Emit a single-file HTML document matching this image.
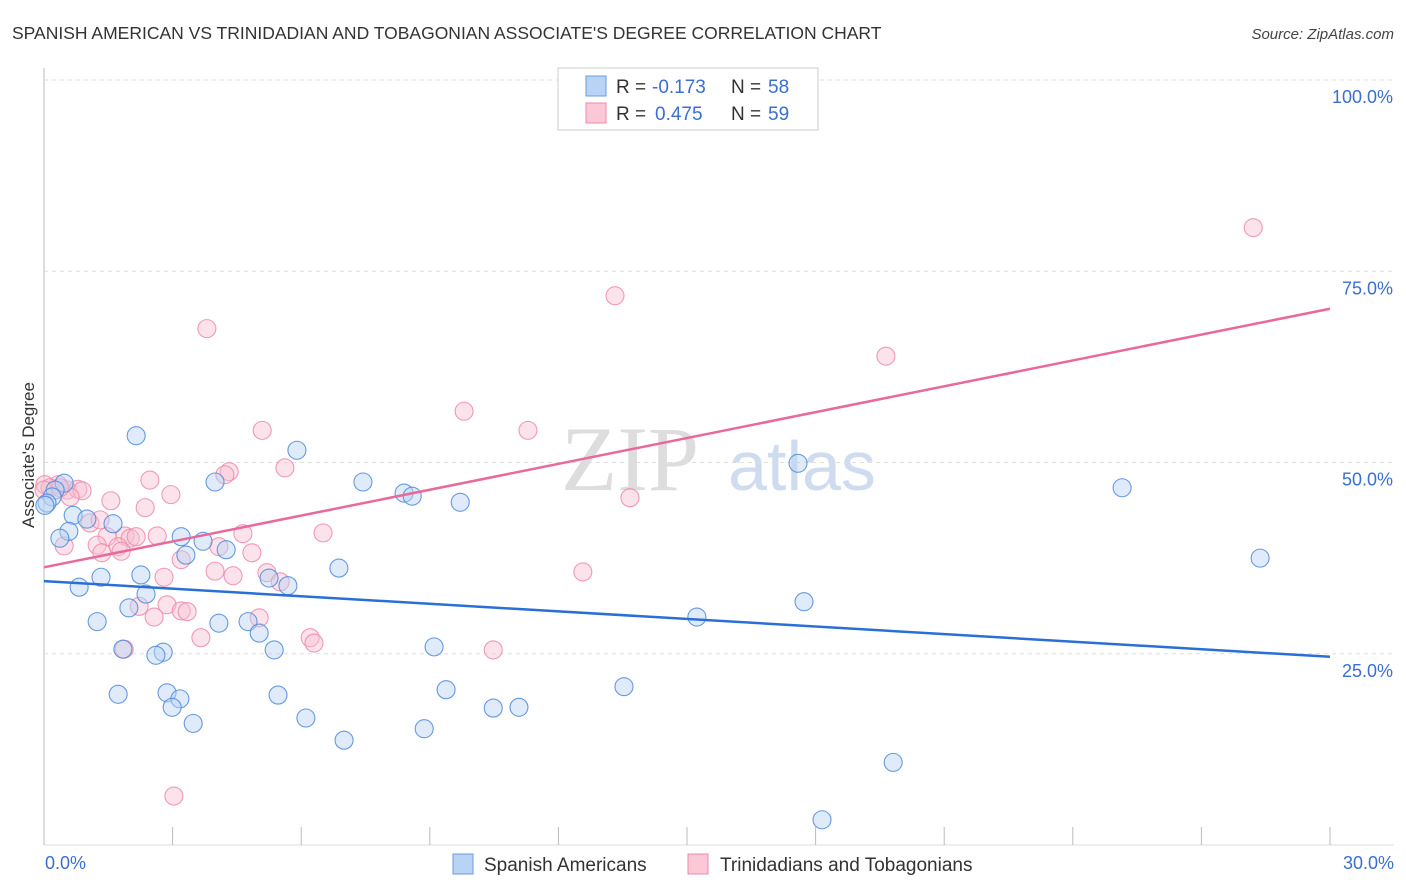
<!DOCTYPE html>
<html><head><meta charset="utf-8"><style>
body{margin:0;background:#fff;font-family:"Liberation Sans",sans-serif;}
svg{display:block}
</style></head><body>
<svg width="1406" height="892" xmlns="http://www.w3.org/2000/svg" id="c">
<text x="12" y="39" font-size="17.5" fill="#333">SPANISH AMERICAN VS TRINIDADIAN AND TOBAGONIAN ASSOCIATE'S DEGREE CORRELATION CHART</text>
<text x="1394" y="39" font-size="15" fill="#444" text-anchor="end" font-style="italic">Source: ZipAtlas.com</text>
<g font-size="92" text-anchor="middle">
<text x="630" y="490" fill="#ddd" font-family="Liberation Serif,serif">ZIP</text>
<text x="802" y="490" fill="#cfdcf0" font-size="70">atlas</text></g>
<text transform="translate(34,455) rotate(-90)" font-size="17" fill="#333" text-anchor="middle">Associate's Degree</text>
<g id="grid"></g><g id="pts"></g><g id="lines"></g>
<g font-size="19" fill="#333">
<rect x="558" y="68" width="260" height="62" fill="#fff" stroke="#ccc"/>
<rect x="586" y="76" width="20" height="20" fill="#b9d3f5" stroke="#6a9ce0"/>
<rect x="586" y="103" width="20" height="20" fill="#fbc8d8" stroke="#ec8aa8"/>
<text x="616" y="93">R =</text><text x="652" y="93" fill="#3a6fd0">-0.173</text>
<text x="731" y="93">N =</text><text x="768" y="93" fill="#3a6fd0">58</text>
<text x="616" y="120">R =</text><text x="655" y="120" fill="#3a6fd0">0.475</text>
<text x="731" y="120">N =</text><text x="768" y="120" fill="#3a6fd0">59</text>
</g>
<g font-size="19" fill="#333">
<rect x="453" y="854" width="20" height="20" fill="#b9d3f5" stroke="#6a9ce0"/>
<text x="484" y="871">Spanish Americans</text>
<rect x="688" y="854" width="20" height="20" fill="#fbc8d8" stroke="#ec8aa8"/>
<text x="720" y="871">Trinidadians and Tobagonians</text>
</g>
</svg>
<script>
const xTicks=[0,3,6,9,12,15,18,21,24,27,30];
const yTicks=[25,50,75,100];
const yTickLabels=["25.0%","50.0%","75.0%","100.0%"];
const xEndLabels=["0.0%","30.0%"];
const blueX=[2.15,5.90,3.99,7.44,8.40,8.59,9.71,17.59,25.15,28.37,0.47,0.26,0.19,0.07,0.68,1.00,1.61,0.58,0.37,3.20,3.71,4.25,3.31,1.33,2.26,6.88,5.25,5.69,0.82,2.38,1.98,1.24,4.08,4.76,5.02,15.23,17.73,9.10,5.37,2.78,2.61,1.84,1.73,2.87,3.17,2.99,5.46,9.38,13.53,3.48,6.11,10.48,11.08,7.00,8.87,19.81,18.15,0.02];
const blueY=[53.5,51.6,47.45,47.45,46.0,45.6,44.8,49.9,46.7,37.5,47.3,46.4,45.5,44.7,43.1,42.6,42.0,41.0,40.1,40.3,39.7,38.6,37.9,35.0,35.3,36.2,34.9,33.9,33.7,32.8,31.0,29.2,29.0,29.2,27.7,29.8,31.8,25.9,25.5,25.2,24.8,25.6,19.7,19.9,19.1,18.0,19.6,20.3,20.7,15.9,16.6,17.9,18.0,13.7,15.2,10.8,3.3,44.4];
const pinkX=[28.21,13.32,3.80,19.64,9.80,5.09,11.29,4.32,4.22,5.62,2.47,2.96,1.56,2.36,0.33,0.54,0.79,0.89,0.61,0.02,0.14,1.07,1.47,1.89,2.01,2.64,2.15,4.64,6.51,1.24,1.73,1.35,1.80,4.08,4.85,3.20,13.67,12.57,3.99,4.41,5.20,2.80,5.51,2.22,2.87,3.20,3.34,2.57,5.02,6.21,6.30,3.66,1.87,10.48,3.03,0.47,1.31,0.0,0.37];
const pinkY=[80.7,71.8,67.5,63.9,56.7,54.2,54.2,48.8,48.4,49.3,47.7,45.8,45.0,44.1,47.1,46.4,46.5,46.3,45.5,47.1,46.7,42.1,40.3,40.4,40.1,40.4,40.3,40.7,40.8,39.2,39.0,38.2,38.4,39.0,38.2,37.3,45.4,35.7,35.8,35.2,35.6,35.0,34.4,31.2,31.4,30.6,30.5,29.8,29.7,27.1,26.4,27.1,25.6,25.5,6.4,39.1,42.5,46.4,46.7];
const blueTrend=[34.5,24.6];
const pinkTrend=[36.3,70.1];
const NS="http://www.w3.org/2000/svg";
const X=v=>44+v/30*1286, Y=v=>845-v*7.65;
function mk(t,a,p){const e=document.createElementNS(NS,t);for(const k in a)e.setAttribute(k,a[k]);p.appendChild(e);return e;}
const g=document.getElementById('grid');
let ax=mk('line',{x1:44,y1:68,x2:44,y2:845,stroke:'#bbb'},g);


let bx=mk('line',{x1:44,y1:845,x2:1394,y2:845,stroke:'#ddd'},g);


yTicks.forEach((t,i)=>{
 const l=mk('line',{x1:44,x2:1394,y1:Y(t),y2:Y(t),stroke:'#ddd','stroke-dasharray':'4,4'},g);
 
 
 const tx=mk('text',{x:1393,y:Y(t)+23,'font-size':18,fill:'#3a6fd0','text-anchor':'end'},g);
 tx.textContent=yTickLabels[i];
 
 
});
xTicks.forEach(t=>{
 const l=mk('line',{x1:X(t),x2:X(t),y1:827,y2:845,stroke:'#bbb'},g);
 
 
});
[[0,'start',45],[30,'end',1394]].forEach((a,i)=>{
 const tx=mk('text',{x:a[2],y:869,'font-size':18,fill:'#3a6fd0','text-anchor':a[1]},g);
 tx.textContent=xEndLabels[i];
 
 
});
const p=document.getElementById('pts');
function dots(xs,ys,fill,stroke,name){xs.forEach((x,i)=>{
 const c=mk('circle',{cx:X(x),cy:Y(ys[i]),r:9,fill:fill,'fill-opacity':0.45,stroke:stroke,'stroke-opacity':0.85,'stroke-width':1.1},p);
 
 
});}
dots(pinkX,pinkY,'#f9c0d2','#ec8aa8','trinidadian-point');
dots(blueX,blueY,'#b9d3f5','#4d88d8','spanish-american-point');
const L=document.getElementById('lines');
let bl=mk('line',{x1:X(0),y1:Y(blueTrend[0]),x2:X(30),y2:Y(blueTrend[1]),stroke:'#2a6fd6','stroke-width':2.5},L);


let pl=mk('line',{x1:X(0),y1:Y(pinkTrend[0]),x2:X(30),y2:Y(pinkTrend[1]),stroke:'#e8699a','stroke-width':2.5},L);


</script>
</body></html>
